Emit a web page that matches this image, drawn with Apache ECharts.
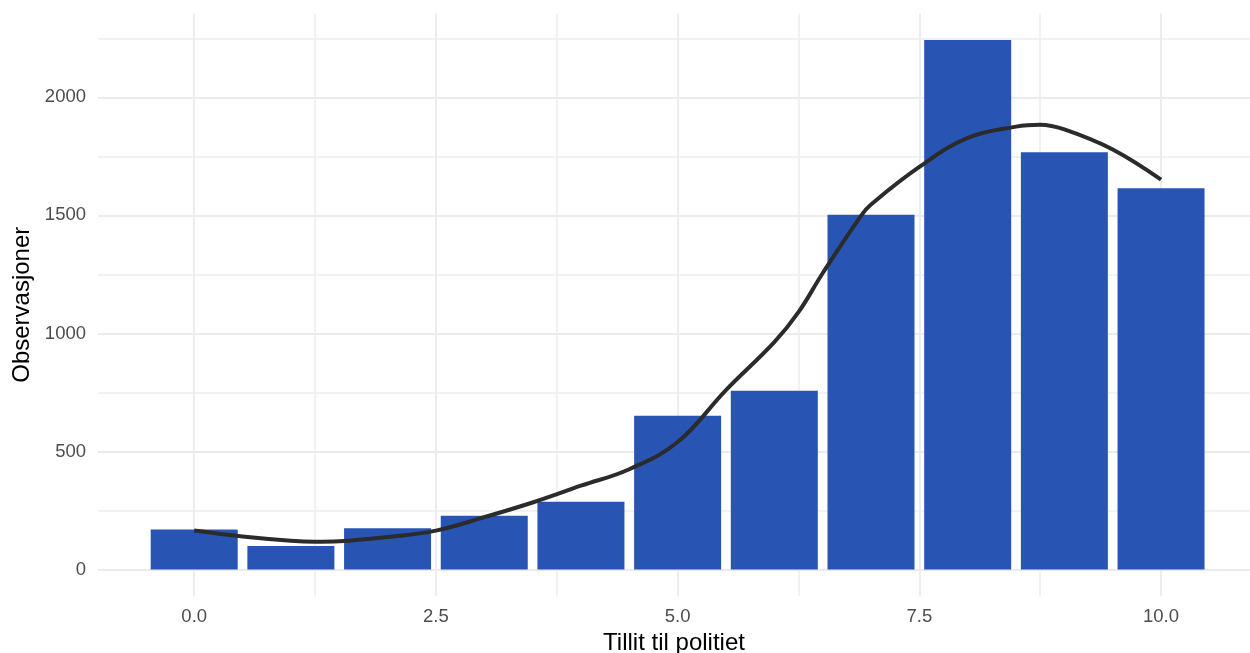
<!DOCTYPE html>
<html>
<head>
<meta charset="utf-8">
<script src="https://cdn.jsdelivr.net/npm/echarts@6/dist/echarts.min.js"></script>
<style>html,body{margin:0;padding:0;background:#fff}#c{width:1250px;height:653px}</style>
</head>
<body>
<div id="c"></div>
<script>
// Data
const scores = [0, 1, 2, 3, 4, 5, 6, 7, 8, 9, 10];
const counts = [170, 100, 175, 228, 287, 651, 757, 1503, 2243, 1767, 1615];
const smoothX = [0, 0.5, 1, 1.25, 1.5, 2, 2.5, 3, 3.5, 4, 4.5, 5, 5.5, 6, 6.25, 6.5, 6.9, 7, 7.5, 8, 8.5, 8.75, 9, 9.5, 10];
const smoothY = [165, 140, 122, 118, 120, 138, 165, 222, 284, 355, 425, 540, 760, 963, 1090, 1255, 1500, 1546, 1705, 1828, 1876, 1884, 1864, 1779, 1651];
const xMajorTicks = [0, 2.5, 5, 7.5, 10];
const xMinorTicks = [1.25, 3.75, 6.25, 8.75];
const yMajorTicks = [0, 500, 1000, 1500, 2000];
const yMinorTicks = [250, 750, 1250, 1750, 2250];

const chart = echarts.init(document.getElementById('c'), null, {renderer: 'canvas'});
const font = 'Liberation Sans, Arial, Helvetica, sans-serif';
const xMin = -0.995, xMax = 10.92, yMin = -112, yMax = 2355;

const baseX = {type: 'value', min: xMin, max: xMax, axisLine: {show: false}};
const baseY = {type: 'value', min: yMin, max: yMax, axisLine: {show: false}};

chart.setOption({
  animation: false,
  backgroundColor: '#ffffff',
  grid: {left: 98, right: 0, top: 13.5, bottom: 57, containLabel: false, outerBoundsMode: 'none'},
  xAxis: [
    Object.assign({}, baseX, {
      name: 'Tillit til politiet',
      nameLocation: 'middle',
      nameGap: 34,
      nameTextStyle: {color: '#000', fontSize: 24, fontFamily: font},
      axisTick: {show: false, customValues: xMajorTicks},
      axisLabel: {customValues: xMajorTicks, color: '#4D4D4D', fontSize: 18.5, fontFamily: font, margin: 11,
        formatter: v => v.toFixed(1)},
      splitLine: {show: true, lineStyle: {color: '#EBEBEB', width: 1.8}}
    }),
    Object.assign({}, baseX, {
      show: true, position: 'bottom',
      axisTick: {show: false, customValues: xMinorTicks},
      axisLabel: {show: false, customValues: xMinorTicks},
      splitLine: {show: true, lineStyle: {color: '#EEEEEE', width: 1.5}}
    })
  ],
  yAxis: [
    Object.assign({}, baseY, {
      name: 'Observasjoner',
      nameLocation: 'middle',
      nameGap: 64,
      nameRotate: 90,
      nameTextStyle: {color: '#000', fontSize: 24, fontFamily: font},
      axisTick: {show: false, customValues: yMajorTicks},
      axisLabel: {customValues: yMajorTicks, color: '#4D4D4D', fontSize: 18.5, fontFamily: font, margin: 12,
        formatter: v => String(v)},
      splitLine: {show: true, lineStyle: {color: '#EBEBEB', width: 1.8}}
    }),
    Object.assign({}, baseY, {
      show: true, position: 'left',
      axisTick: {show: false, customValues: yMinorTicks},
      axisLabel: {show: false, customValues: yMinorTicks},
      splitLine: {show: true, lineStyle: {color: '#EEEEEE', width: 1.5}}
    })
  ],
  series: [
    {
      type: 'bar',
      xAxisIndex: 0, yAxisIndex: 0,
      data: scores.map((s, i) => [s, counts[i]]),
      barWidth: 87,
      itemStyle: {color: '#2855B4'},
      silent: true
    },
    {
      type: 'line',
      xAxisIndex: 0, yAxisIndex: 0,
      data: smoothX.map((x, i) => [x, smoothY[i]]),
      smooth: 0.4,
      showSymbol: false,
      lineStyle: {color: '#2B2B2B', width: 4},
      z: 5,
      silent: true
    }
  ]
});
</script>
</body>
</html>
